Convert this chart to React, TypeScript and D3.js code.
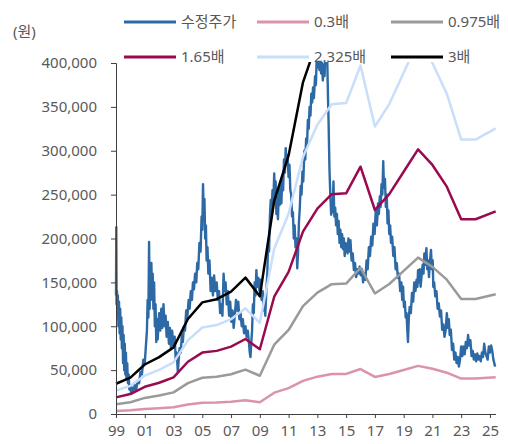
import { useRef, useEffect } from "react";
import * as d3 from "d3";

// band base points (year start), last point = latest
const BAND_YEARS = [
  1999, 2000, 2001, 2002, 2003, 2004, 2005, 2006, 2007, 2008, 2009, 2010, 2011,
  2012, 2013, 2014, 2015, 2016, 2017, 2018, 2019, 2020, 2021, 2022, 2023, 2024, 2025.4,
];
// BPS (원)
const BPS = [
  11500, 13800, 18800, 21600, 25300, 36100, 42400, 43600, 46500, 51800, 44700, 81000, 98200,
  126000, 141800, 151800, 152400, 170800, 140900, 151900, 167300, 182800, 172000, 157000,
  134500, 134500, 140000,
];

const BANDS = [
  { label: "0.3배", multiple: 0.3, color: "#db93aa" },
  { label: "0.975배", multiple: 0.975, color: "#9a9a9a" },
  { label: "1.65배", multiple: 1.65, color: "#990a4f" },
  { label: "2.325배", multiple: 2.325, color: "#c8defa" },
  { label: "3배", multiple: 3, color: "#000000" },
];

const PRICE_LABEL = "수정주가";
const PRICE_COLOR = "#2c69a5";

// 수정주가 (천원), [year, value]
const PRICE: [number, number][] = [
  [1999.0, 135], [1999.02, 213], [1999.04, 125], [1999.07, 140], [1999.1, 110], [1999.13, 135],
  [1999.17, 100], [1999.21, 128], [1999.25, 92], [1999.29, 120], [1999.33, 85], [1999.37, 110],
  [1999.41, 75], [1999.45, 100], [1999.49, 58], [1999.53, 90], [1999.57, 50], [1999.61, 80],
  [1999.65, 45], [1999.69, 70], [1999.73, 40], [1999.78, 58], [1999.83, 35], [1999.88, 45],
  [1999.93, 28], [2000.0, 32], [2000.05, 24], [2000.12, 30], [2000.2, 25], [2000.3, 33],
  [2000.4, 27], [2000.5, 38], [2000.6, 35], [2000.7, 48], [2000.8, 45], [2000.9, 62],
  [2001.0, 58], [2001.08, 78], [2001.15, 95], [2001.2, 130], [2001.25, 110], [2001.3, 196],
  [2001.34, 120], [2001.38, 165], [2001.42, 130], [2001.46, 172], [2001.5, 140], [2001.55, 160],
  [2001.6, 120], [2001.65, 150], [2001.7, 100], [2001.75, 125], [2001.8, 82], [2001.85, 108],
  [2001.9, 85], [2002.0, 115], [2002.08, 95], [2002.15, 120], [2002.22, 98], [2002.3, 125],
  [2002.38, 100], [2002.45, 112], [2002.52, 88], [2002.6, 105], [2002.68, 80], [2002.75, 98],
  [2002.82, 75], [2002.9, 95], [2003.0, 78], [2003.08, 88], [2003.15, 62], [2003.22, 70],
  [2003.3, 48], [2003.36, 62], [2003.42, 75], [2003.5, 70], [2003.58, 90], [2003.65, 82],
  [2003.72, 100], [2003.8, 95], [2003.88, 118], [2003.95, 108], [2004.05, 130], [2004.12, 120],
  [2004.2, 140], [2004.28, 130], [2004.35, 150], [2004.42, 142], [2004.5, 160], [2004.58, 150],
  [2004.65, 172], [2004.72, 165], [2004.8, 195], [2004.88, 185], [2004.95, 225], [2005.0, 210],
  [2005.05, 262], [2005.1, 230], [2005.15, 245], [2005.2, 200], [2005.25, 215], [2005.3, 175],
  [2005.36, 190], [2005.42, 160], [2005.5, 175], [2005.58, 140], [2005.66, 155], [2005.74, 135],
  [2005.82, 158], [2005.9, 140], [2006.0, 150], [2006.08, 130], [2006.16, 140], [2006.24, 115],
  [2006.32, 125], [2006.4, 112], [2006.48, 160], [2006.55, 140], [2006.62, 150], [2006.7, 125],
  [2006.78, 140], [2006.86, 112], [2006.94, 128], [2007.02, 105], [2007.1, 118], [2007.18, 98],
  [2007.26, 112], [2007.34, 130], [2007.42, 118], [2007.5, 128], [2007.58, 108], [2007.66, 115],
  [2007.74, 100], [2007.82, 108], [2007.9, 92], [2008.0, 100], [2008.08, 88], [2008.16, 95],
  [2008.24, 82], [2008.3, 70], [2008.35, 65], [2008.4, 80], [2008.46, 95], [2008.52, 125],
  [2008.58, 115], [2008.64, 150], [2008.7, 135], [2008.76, 164], [2008.82, 145], [2008.9, 155],
  [2008.98, 140], [2009.05, 153], [2009.12, 130], [2009.2, 140], [2009.26, 118], [2009.32, 128],
  [2009.38, 112], [2009.45, 140], [2009.52, 160], [2009.58, 198], [2009.64, 185], [2009.7, 225],
  [2009.76, 244], [2009.82, 230], [2009.88, 255], [2009.94, 240], [2010.0, 274], [2010.05, 245],
  [2010.1, 265], [2010.15, 228], [2010.2, 248], [2010.26, 222], [2010.32, 257], [2010.38, 238],
  [2010.44, 262], [2010.5, 240], [2010.56, 270], [2010.62, 255], [2010.68, 290], [2010.74, 275],
  [2010.8, 303], [2010.86, 285], [2010.92, 295], [2011.0, 270], [2011.06, 284], [2011.12, 255],
  [2011.18, 250], [2011.24, 225], [2011.3, 230], [2011.36, 200], [2011.42, 215], [2011.48, 190],
  [2011.54, 200], [2011.6, 166], [2011.66, 185], [2011.72, 219], [2011.78, 235], [2011.84, 260],
  [2011.9, 250], [2011.96, 276], [2012.02, 265], [2012.1, 300], [2012.16, 290], [2012.22, 314],
  [2012.28, 305], [2012.34, 335], [2012.4, 325], [2012.46, 350], [2012.52, 340], [2012.58, 365],
  [2012.64, 355], [2012.7, 372], [2012.76, 360], [2012.84, 385], [2012.9, 375], [2012.96, 410],
  [2013.02, 395], [2013.08, 420], [2013.14, 392], [2013.2, 405], [2013.26, 388], [2013.32, 400],
  [2013.38, 380], [2013.44, 398], [2013.5, 385], [2013.56, 415], [2013.62, 400], [2013.68, 410],
  [2013.74, 360], [2013.78, 333], [2013.84, 280], [2013.9, 250], [2013.96, 227], [2014.0, 240],
  [2014.06, 230], [2014.12, 265], [2014.18, 225], [2014.24, 235], [2014.3, 215], [2014.36, 228],
  [2014.42, 205], [2014.48, 220], [2014.54, 195], [2014.6, 210], [2014.66, 190], [2014.72, 205],
  [2014.78, 188], [2014.84, 200], [2014.9, 180], [2014.96, 195], [2015.04, 190], [2015.1, 183],
  [2015.16, 200], [2015.22, 185], [2015.3, 198], [2015.38, 175], [2015.46, 183], [2015.54, 164],
  [2015.62, 172], [2015.7, 156], [2015.78, 165], [2015.86, 160], [2015.94, 168], [2016.02, 158],
  [2016.1, 165], [2016.18, 150], [2016.26, 160], [2016.34, 153], [2016.42, 175], [2016.5, 165],
  [2016.58, 190], [2016.66, 180], [2016.74, 202], [2016.82, 192], [2016.9, 217], [2016.98, 205],
  [2017.06, 232], [2017.14, 215], [2017.22, 240], [2017.28, 228], [2017.34, 248], [2017.4, 236],
  [2017.46, 262], [2017.52, 250], [2017.58, 288], [2017.63, 258], [2017.7, 268], [2017.76, 236],
  [2017.82, 250], [2017.88, 217], [2017.94, 232], [2018.0, 205], [2018.06, 215], [2018.12, 195],
  [2018.2, 202], [2018.28, 180], [2018.36, 190], [2018.44, 165], [2018.52, 172], [2018.6, 155],
  [2018.68, 160], [2018.76, 140], [2018.84, 150], [2018.9, 130], [2018.96, 145], [2019.02, 122],
  [2019.08, 128], [2019.14, 110], [2019.2, 115], [2019.24, 100], [2019.3, 82], [2019.36, 110],
  [2019.42, 122], [2019.5, 115], [2019.58, 138], [2019.66, 128], [2019.74, 150], [2019.82, 140],
  [2019.9, 153], [2019.96, 145], [2020.0, 164], [2020.06, 150], [2020.12, 165], [2020.18, 145],
  [2020.26, 160], [2020.32, 170], [2020.38, 160], [2020.44, 183], [2020.5, 170], [2020.58, 189],
  [2020.64, 165], [2020.7, 175], [2020.76, 156], [2020.82, 172], [2020.9, 187], [2020.96, 165],
  [2021.02, 175], [2021.06, 145], [2021.12, 150], [2021.2, 134], [2021.28, 140], [2021.36, 120],
  [2021.44, 126], [2021.52, 111], [2021.6, 118], [2021.68, 96], [2021.76, 102], [2021.84, 88],
  [2021.92, 95], [2022.0, 115], [2022.08, 98], [2022.14, 108], [2022.2, 90], [2022.28, 96],
  [2022.36, 73], [2022.44, 80], [2022.52, 62], [2022.6, 70], [2022.68, 58], [2022.76, 65],
  [2022.84, 54], [2022.92, 62], [2023.0, 77], [2023.08, 66], [2023.16, 77], [2023.24, 68],
  [2023.32, 82], [2023.4, 75], [2023.48, 90], [2023.56, 78], [2023.64, 84], [2023.72, 66],
  [2023.8, 72], [2023.88, 62], [2023.96, 68], [2024.04, 60], [2024.12, 69], [2024.2, 62],
  [2024.28, 66], [2024.36, 60], [2024.44, 70], [2024.52, 65], [2024.6, 80], [2024.68, 70],
  [2024.76, 66], [2024.84, 62], [2024.92, 77], [2025.0, 70], [2025.08, 78], [2025.16, 72],
  [2025.24, 62], [2025.3, 58], [2025.36, 54],
];

const X_TICKS = [1999, 2001, 2003, 2005, 2007, 2009, 2011, 2013, 2015, 2017, 2019, 2021, 2023, 2025];
const Y_TICKS = [0, 50000, 100000, 150000, 200000, 250000, 300000, 350000, 400000];

const WIDTH = 508;
const HEIGHT = 444;
const PLOT = { left: 116, right: 496, top: 63, bottom: 414 };
const FONT = "'Noto Sans', 'Noto Sans CJK KR', sans-serif";
const TEXT_COLOR = "#595959";

export default function App() {
  const svgRef = useRef<SVGSVGElement>(null);

  useEffect(() => {
    if (!svgRef.current) return;
    document.body.style.margin = "0";
    const svg = d3.select(svgRef.current);
    svg.selectAll("*").remove();

    const x = d3.scaleLinear().domain([1999, 2025.42]).range([PLOT.left, PLOT.right]);
    const y = d3.scaleLinear().domain([0, 400000]).range([PLOT.bottom, PLOT.top]);

    // clip only the top (values above 400,000)
    svg.append("defs")
      .append("clipPath")
      .attr("id", "plot-clip")
      .append("rect")
      .attr("x", PLOT.left - 4)
      .attr("y", PLOT.top - 1)
      .attr("width", PLOT.right - PLOT.left + 8)
      .attr("height", PLOT.bottom - PLOT.top + 4);

    const chart = svg.append("g").attr("clip-path", "url(#plot-clip)");

    // 수정주가
    const priceLine = d3.line<[number, number]>()
      .x((d) => x(d[0]))
      .y((d) => y(d[1] * 1000));
    chart.append("path")
      .datum(PRICE)
      .attr("d", priceLine)
      .attr("fill", "none")
      .attr("stroke", PRICE_COLOR)
      .attr("stroke-width", 2.4)
      .attr("stroke-linejoin", "round");

    // PBR bands
    BANDS.forEach((b) => {
      const line = d3.line<number>()
        .x((_d, i) => x(BAND_YEARS[i]))
        .y((d) => y(d * b.multiple));
      chart.append("path")
        .datum(BPS)
        .attr("d", line)
        .attr("fill", "none")
        .attr("stroke", b.color)
        .attr("stroke-width", 2.5)
        .attr("stroke-linejoin", "round");
    });

    // axes
    const yAxis = svg.append("g")
      .attr("transform", `translate(${PLOT.left},0)`)
      .call(d3.axisLeft(y).tickValues(Y_TICKS).tickSize(5).tickPadding(14).tickFormat((d) => d3.format(",")(d as number)));
    yAxis.select(".domain").attr("stroke", "#404040");
    yAxis.selectAll(".tick line").attr("stroke", "#404040");
    yAxis.selectAll("text")
      .attr("fill", TEXT_COLOR)
      .attr("font-size", "15px")
      .attr("font-family", FONT);

    const xAxis = svg.append("g")
      .attr("transform", `translate(0,${PLOT.bottom})`)
      .call(d3.axisBottom(x).tickValues(X_TICKS).tickSize(4).tickSizeOuter(0).tickPadding(7)
        .tickFormat((d) => String(d as number).slice(2)));
    xAxis.select(".domain").attr("stroke", "#404040").attr("d", `M${PLOT.left - 4},0.5H${PLOT.right}`);
    xAxis.selectAll(".tick line").attr("stroke", "#404040");
    xAxis.selectAll("text")
      .attr("fill", TEXT_COLOR)
      .attr("font-size", "15px")
      .attr("font-family", FONT);

    svg.append("text")
      .attr("x", 13)
      .attr("y", 37)
      .attr("fill", TEXT_COLOR)
      .attr("font-size", "15px")
      .attr("font-family", FONT)
      .text("(원)");

    // legend
    const legendItems = [{ label: PRICE_LABEL, color: PRICE_COLOR }, ...BANDS];
    const colX = [124, 257, 391];
    const rowY = [22, 57];
    legendItems.forEach((item, i) => {
      const lx = colX[i % 3];
      const ly = rowY[Math.floor(i / 3)];
      const g = svg.append("g").attr("transform", `translate(${lx},${ly})`);
      g.append("line")
        .attr("x1", 0).attr("x2", 52).attr("y1", 0).attr("y2", 0)
        .attr("stroke", item.color)
        .attr("stroke-width", 3);
      g.append("text")
        .attr("x", 57)
        .attr("y", 0)
        .attr("dy", "0.35em")
        .attr("fill", TEXT_COLOR)
        .attr("font-size", "15px")
        .attr("font-family", FONT)
        .text(item.label);
    });
  }, []);

  return (
    <div style={{ position: "absolute", left: 0, top: 0 }}>
      <svg ref={svgRef} width={WIDTH} height={HEIGHT} viewBox={`0 0 ${WIDTH} ${HEIGHT}`} style={{ display: "block", background: "#fff" }} />
    </div>
  );
}
